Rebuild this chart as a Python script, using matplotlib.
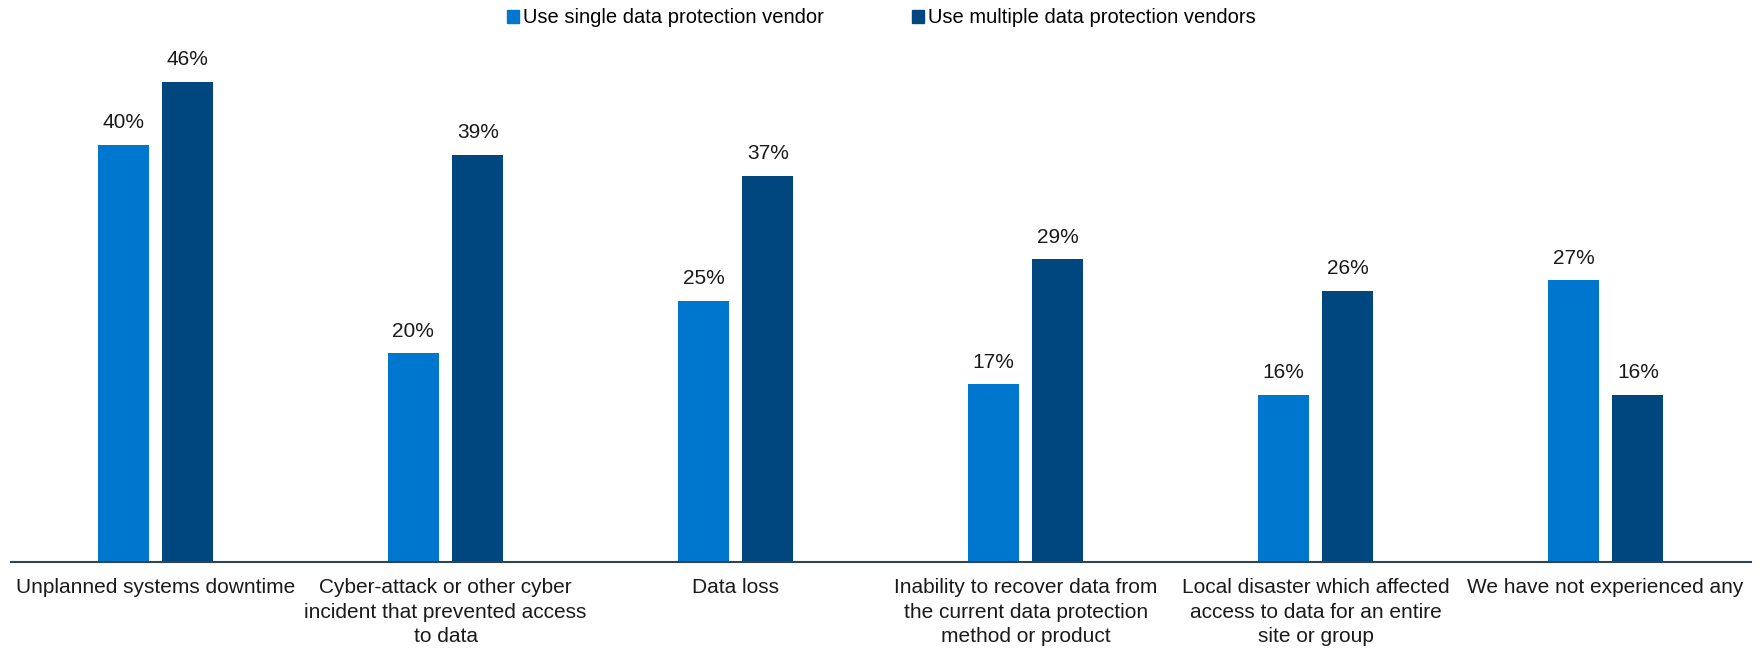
"""Experienced outages by data protection vendor strategy (single vs. multiple)."""
import matplotlib
matplotlib.use("Agg")
import matplotlib.pyplot as plt
import numpy as np
from matplotlib.patches import Patch

plt.rcParams["font.family"] = ["Liberation Sans Narrow", "Liberation Sans", "DejaVu Sans"]

categories = [
    "Unplanned systems downtime",
    "Cyber-attack or other cyber\nincident that prevented access\nto data",
    "Data loss",
    "Inability to recover data from\nthe current data protection\nmethod or product",
    "Local disaster which affected\naccess to data for an entire\nsite or group",
    "We have not experienced any",
]
single_vendor = [40, 20, 25, 17, 16, 27]
multi_vendor = [46, 39, 37, 29, 26, 16]
series_names = ["Use single data protection vendor", "Use multiple data protection vendors"]

C_SINGLE = "#0077CF"
C_MULTI = "#00467F"

fig = plt.figure(figsize=(17.63, 6.48), dpi=100)
ax = fig.add_axes([0.006, 0.133, 0.987, 0.805])

x = np.arange(len(categories))
w = 0.175
off = 0.111
b1 = ax.bar(x - off, single_vendor, w, color=C_SINGLE)
b2 = ax.bar(x + off, multi_vendor, w, color=C_MULTI)

for bars, vals in ((b1, single_vendor), (b2, multi_vendor)):
    for r, v in zip(bars, vals):
        ax.annotate(f"{v}%", (r.get_x() + r.get_width() / 2, r.get_height()),
                    xytext=(0, 9), textcoords="offset points",
                    ha="center", va="bottom", fontsize=15, color="#1a1a1a")

ax.set_xlim(-0.5, len(categories) - 0.5)
ax.set_ylim(0, 50)
ax.set_xticks(x)
ax.set_xticklabels(categories, fontsize=15, color="#1a1a1a", linespacing=1.35)
ax.tick_params(axis="x", length=0, pad=12)
ax.set_yticks([])
for s in ("top", "right", "left"):
    ax.spines[s].set_visible(False)
ax.spines["bottom"].set_color("#2F4550")
ax.spines["bottom"].set_linewidth(1.5)

handles = [Patch(color=C_SINGLE), Patch(color=C_MULTI)]
fig.legend(handles, series_names, loc="upper center", bbox_to_anchor=(0.5, 1.015),
           ncol=2, frameon=False, fontsize=14.5, handlelength=0.6, handleheight=0.6,
           handletextpad=0.2, columnspacing=4.4)

fig.savefig("out.png", dpi=100)
